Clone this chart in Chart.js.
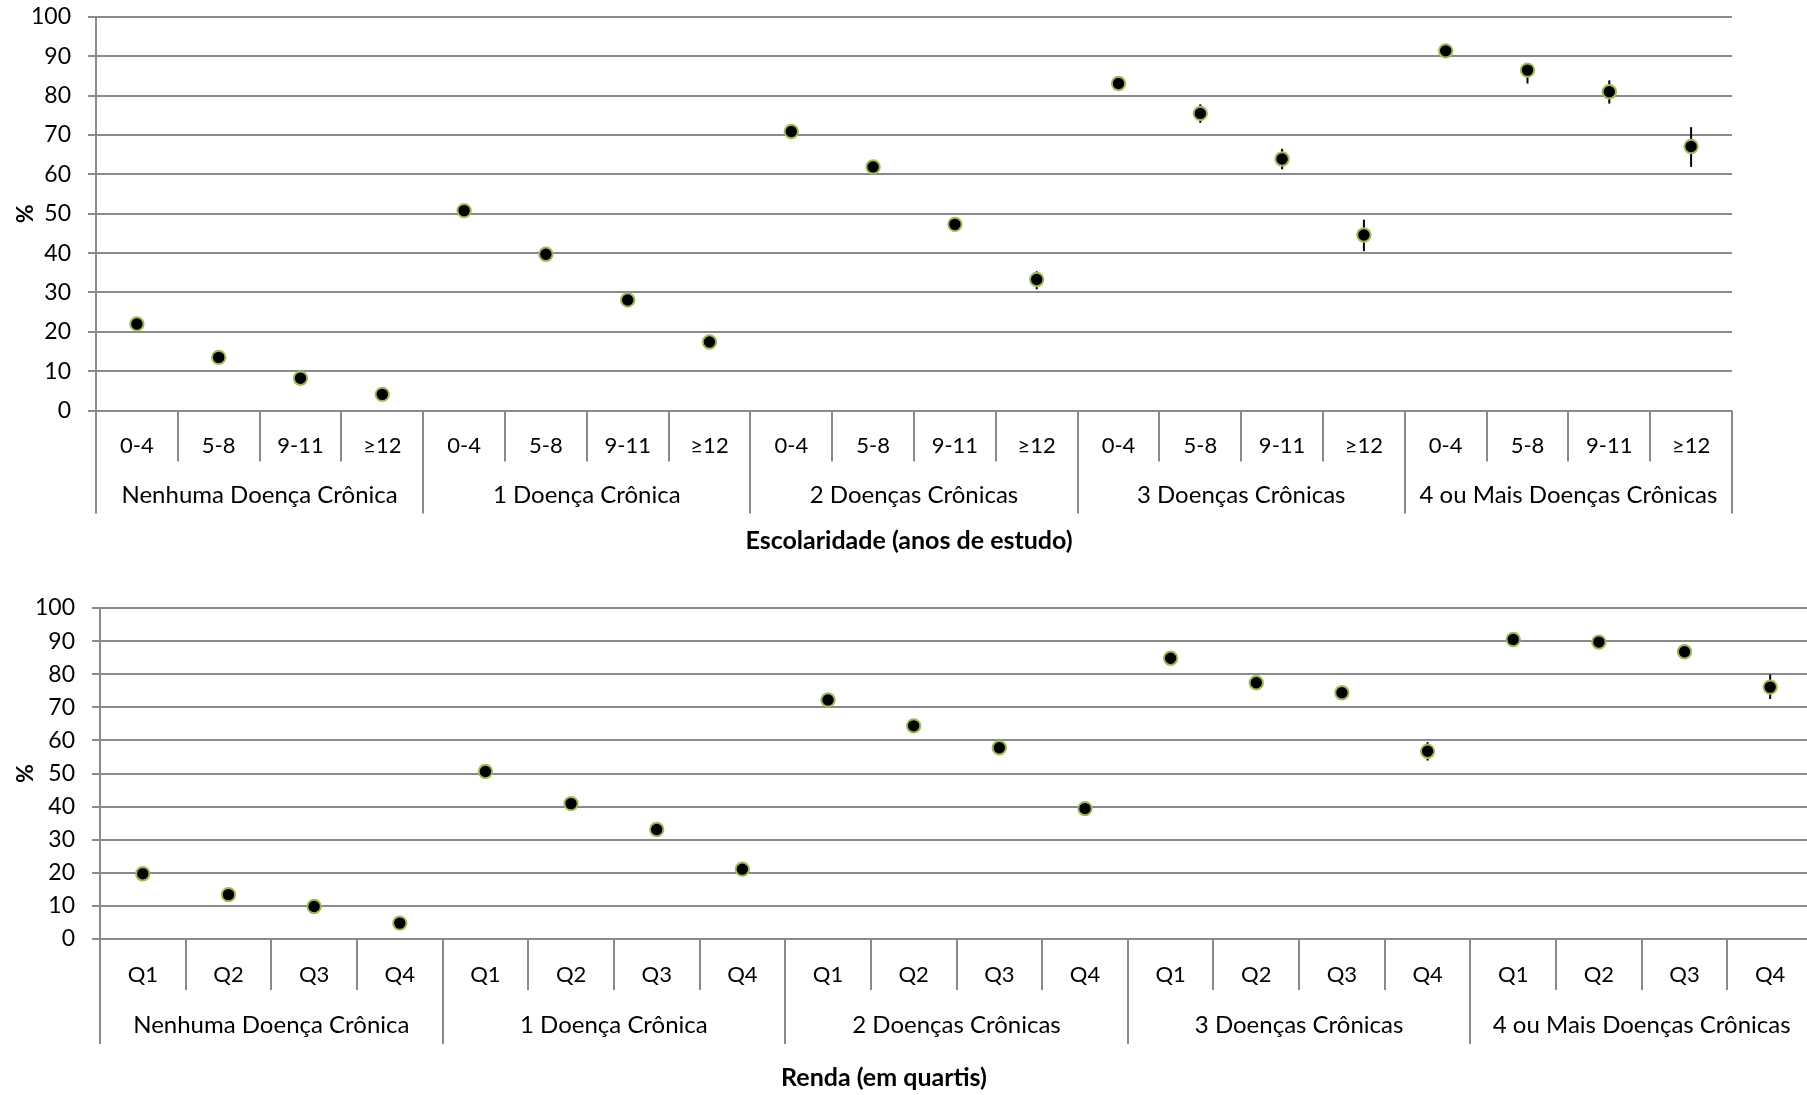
<!DOCTYPE html>
<html>
<head>
<meta charset="utf-8">
<script src="https://cdn.jsdelivr.net/npm/chart.js@4.4.1/dist/chart.umd.min.js"></script>
<style>
    html, body { margin: 0; padding: 0; background: #fff; overflow: hidden; width: 1807px; height: 1095px; }
    .panel { position: absolute; left: 0; }
</style>
</head>
<body>
<div class="panel" style="top:0"><canvas id="chartEscolaridade" width="1807" height="560"></canvas></div>
<div class="panel" style="top:560px"><canvas id="chartRenda" width="1830" height="535"></canvas></div>

<script>
const groupLabels = ['Nenhuma Doença Crônica', '1 Doença Crônica', '2 Doenças Crônicas', '3 Doenças Crônicas', '4 ou Mais Doenças Crônicas'];
const schoolingLevels = ['0-4', '5-8', '9-11', '≥12'];
const incomeQuartiles = ['Q1', 'Q2', 'Q3', 'Q4'];

// escolaridade: % por grupo x anos de estudo, com intervalo (barra de erro)
const schoolingValues = [22.0, 13.5, 8.2, 4.1, 50.8, 39.7, 28.1, 17.4, 70.9, 61.9, 47.3, 33.3, 83.1, 75.5, 63.9, 44.6, 91.4, 86.5, 81.0, 67.1];
const schoolingLower  = [21.2, 12.8, 7.6, 3.6, 49.8, 38.8, 27.2, 16.4, 69.9, 60.7, 45.9, 30.8, 82.0, 73.1, 61.3, 40.5, 90.2, 83.1, 78.0, 61.9];
const schoolingUpper  = [22.8, 14.2, 8.8, 4.6, 51.8, 40.6, 29.0, 18.4, 71.9, 63.1, 48.7, 35.4, 84.2, 77.8, 66.5, 48.5, 92.6, 88.3, 83.9, 72.0];

// renda: % por grupo x quartil
const incomeValues = [19.7, 13.4, 9.8, 4.8, 50.6, 40.9, 33.1, 21.1, 72.2, 64.4, 57.8, 39.4, 84.8, 77.4, 74.4, 56.7, 90.5, 89.7, 86.8, 76.1];
const incomeLower  = [19.0, 12.7, 9.2, 4.3, 49.6, 39.8, 32.0, 20.2, 71.0, 63.0, 56.3, 37.8, 83.5, 75.8, 72.3, 53.9, 89.4, 88.3, 85.2, 72.5];
const incomeUpper  = [20.4, 14.1, 10.4, 5.3, 51.6, 42.0, 34.2, 22.0, 73.4, 65.8, 59.3, 41.0, 86.1, 79.0, 76.5, 59.5, 91.6, 91.1, 88.4, 79.9];

const yMin = 0, yMax = 100, yStep = 10;

const FONT = 'Lato, "Open Sans", sans-serif';
const GRID = '#8a8a8a';

// vertical error bars, drawn under the markers
const errorBars = {
    id: 'errorBars',
    beforeDatasetsDraw(chart, args, opts) {
        const ctx = chart.ctx;
        const yScale = chart.scales.y;
        const meta = chart.getDatasetMeta(0);
        ctx.save();
        ctx.strokeStyle = '#000';
        ctx.lineWidth = 2;
        meta.data.forEach((pt, i) => {
            ctx.beginPath();
            ctx.moveTo(pt.x, yScale.getPixelForValue(opts.lower[i]));
            ctx.lineTo(pt.x, yScale.getPixelForValue(opts.upper[i]));
            ctx.stroke();
        });
        ctx.restore();
    }
};

// two-level category axis (Excel style)
const groupedAxis = {
    id: 'groupedAxis',
    afterDraw(chart, args, opts) {
        const ctx = chart.ctx;
        const xScale = chart.scales.x;
        const area = chart.chartArea;
        const n = chart.data.labels.length;
        const per = opts.subLabels.length;
        const w = (area.right - area.left) / n;
        const y0 = area.bottom;

        ctx.save();
        ctx.strokeStyle = GRID;
        ctx.lineWidth = 2;
        for (let i = 0; i <= n; i++) {
            const x = Math.round(area.left + i * w);
            const len = (i % per === 0) ? opts.groupLen : opts.catLen;
            ctx.beginPath();
            ctx.moveTo(x, y0);
            ctx.lineTo(x, y0 + len);
            ctx.stroke();
        }

        ctx.fillStyle = '#000';
        ctx.textAlign = 'center';
        ctx.textBaseline = 'middle';
        ctx.font = '22px ' + FONT;
        chart.data.labels.forEach((lab, i) => {
            ctx.fillText(lab, xScale.getPixelForValue(i), y0 + opts.catY);
        });
        ctx.font = '24px ' + FONT;
        opts.groups.forEach((g, gi) => {
            const x = area.left + (gi * per + per / 2) * w;
            ctx.fillText(g, x, y0 + opts.groupY);
        });

        ctx.font = 'bold 25px ' + FONT;
        ctx.fillText(opts.title, opts.titleX, y0 + opts.titleY);
        ctx.restore();
    }
};

function makeChart(id, subLabels, values, lower, upper, dims) {
    const labels = [];
    groupLabels.forEach(() => subLabels.forEach(s => labels.push(s)));

    return new Chart(document.getElementById(id), {
        type: 'line',
        data: {
            labels: labels,
            datasets: [{
                data: values,
                showLine: false,
                pointRadius: 6.7,
                pointBorderWidth: 2,
                pointBackgroundColor: '#000',
                pointBorderColor: '#9bbb59'
            }]
        },
        options: {
            responsive: false,
            animation: false,
            events: [],
            layout: { padding: { top: dims.top, right: dims.right, left: 0, bottom: 0 } },
            plugins: {
                legend: { display: false },
                tooltip: { enabled: false },
                errorBars: { lower: lower, upper: upper },
                groupedAxis: {
                    subLabels: subLabels,
                    groups: groupLabels,
                    catLen: dims.catLen,
                    groupLen: dims.groupLen,
                    catY: dims.catY,
                    groupY: dims.groupY,
                    title: dims.title,
                    titleX: dims.titleX,
                    titleY: dims.titleY
                }
            },
            scales: {
                x: {
                    type: 'category',
                    offset: true,
                    ticks: { display: false },
                    grid: { display: false },
                    border: { display: false },
                    afterFit: s => { s.height = dims.xHeight; }
                },
                y: {
                    min: yMin,
                    max: yMax,
                    ticks: {
                        stepSize: yStep,
                        color: '#000',
                        padding: 17,
                        font: { family: FONT, size: 23 }
                    },
                    grid: { color: GRID, lineWidth: 2, tickLength: 8 },
                    border: { color: GRID, width: 2 },
                    title: {
                        display: true,
                        text: '%',
                        color: '#000',
                        padding: { top: 12, bottom: 0 },
                        font: { family: FONT, size: 23, weight: 'bold' }
                    },
                    afterFit: s => {
                        s.width = dims.yWidth;
                        s.paddingTop = 0;
                        s.paddingBottom = 0;
                    }
                }
            }
        },
        plugins: [errorBars, groupedAxis]
    });
}

makeChart('chartEscolaridade', schoolingLevels, schoolingValues, schoolingLower, schoolingUpper, {
    top: 17, right: 75, yWidth: 96, xHeight: 149.5,
    catLen: 51, groupLen: 103, catY: 35, groupY: 85,
    title: 'Escolaridade (anos de estudo)', titleX: 909, titleY: 130
});

makeChart('chartRenda', incomeQuartiles, incomeValues, incomeLower, incomeUpper, {
    top: 48, right: 17, yWidth: 100, xHeight: 156,
    catLen: 51, groupLen: 105, catY: 36, groupY: 86,
    title: 'Renda (em quartis)', titleX: 884, titleY: 139
});
</script>
</body>
</html>
